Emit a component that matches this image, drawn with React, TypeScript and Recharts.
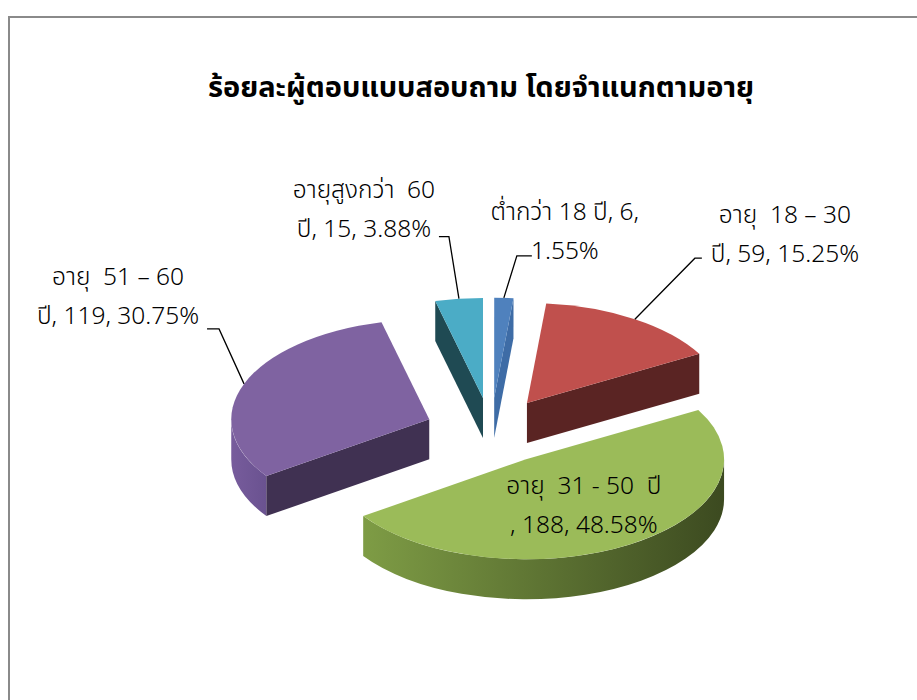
import React from "react";
import { PieChart, Pie, Cell } from "recharts";

// Respondents by age group
const categories = ["ต่ำกว่า 18 ปี", "อายุ  18 – 30 ปี", "อายุ  31 - 50  ปี", "อายุ  51 – 60 ปี", "อายุสูงกว่า  60 ปี"];
const respondents = [6, 59, 188, 119, 15];

const data = categories.map((name, i) => ({ name, value: respondents[i] }));

// Excel-like palette: top face, cut face, outer wall gradient
const TOP = ["#4F81BD", "#C0504D", "#9BBB59", "#7F63A1", "#4BACC6"];
const SIDE = ["#3E6CA6", "#5A2423", "#4F6228", "#403152", "#1F4A53"];
const WALL = [
	["#46729F", "#3A5F8E"],
	["#8A3A38", "#5A2423"],
	["#7E9C45", "#3C4A20"],
	["#775C9C", "#6A5290"],
	["#3A8AA0", "#2A6878"],
];

const FONT = '"Noto Sans Thai", Tahoma, "Noto Sans", "DejaVu Sans", sans-serif';

// fake 3D geometry
const TILT = 0.505;
const DEPTH = 40;
const EXPLODE = 66;
const LINE = 39;

// label placement relative to the point where the leader touches the slice
const LABELS = [
	{ elbow: [13, -42], end: [28, -42], text: [61, -66], wrap: "value" },
	{ elbow: [60, -61], end: [67, -61], text: [150, -84], wrap: "word" },
	{ elbow: null, end: null, text: [0, 0], wrap: "inside" },
	{ elbow: [-25, -55], end: [-37, -55], text: [-126, -87], wrap: "word" },
	{ elbow: [-10, -62], end: [-20, -62], text: [-95, -89], wrap: "word" },
];

const rad = (d: number) => (d * Math.PI) / 180;

const indexOf = (p: any) => {
	const n = p?.payload?.name ?? p?.name;
	return Math.max(0, categories.indexOf(n));
};

const geometry = (cx: number, cy: number, R: number, mid: number) => {
	const vx = cx + EXPLODE * Math.cos(rad(mid));
	const vy = cy - EXPLODE * TILT * Math.sin(rad(mid));
	const pt = (a: number, dz = 0) => [vx + R * Math.cos(rad(a)), vy - R * TILT * Math.sin(rad(a)) + dz];
	return { vx, vy, pt };
};

const Slice3D = (props: any) => {
	const { cx, cy, outerRadius: R, startAngle: s, endAngle: e } = props;
	const i = indexOf(props);
	const ry = R * TILT;
	const { vx, vy, pt } = geometry(cx, cy, R, (s + e) / 2);

	const faces: string[] = [];
	const face = (a: number) => {
		const [x, y] = pt(a);
		return `M${vx},${vy} L${x},${y} L${x},${y + DEPTH} L${vx},${vy + DEPTH} Z`;
	};
	if (Math.cos(rad(s)) < 0) faces.push(face(s));
	if (Math.cos(rad(e)) > 0) faces.push(face(e));

	// outer wall: only the front half of the ellipse shows
	let wall = "";
	const a1 = Math.min(s, 0);
	const a2 = Math.max(e, -180);
	if (a1 > a2) {
		const [x1, y1] = pt(a1);
		const [x2, y2] = pt(a2);
		const lg = a1 - a2 > 180 ? 1 : 0;
		wall = `M${x1},${y1} A${R},${ry} 0 ${lg} 1 ${x2},${y2} L${x2},${y2 + DEPTH} A${R},${ry} 0 ${lg} 0 ${x1},${y1 + DEPTH} Z`;
	}

	const [sx, sy] = pt(s);
	const [ex, ey] = pt(e);
	const large = s - e > 180 ? 1 : 0;
	const top = `M${vx},${vy} L${sx},${sy} A${R},${ry} 0 ${large} 1 ${ex},${ey} Z`;

	return (
		<g>
			<defs>
				<linearGradient id={`wall${i}`} x1="0" y1="0" x2="1" y2="0">
					<stop offset="0%" stopColor={WALL[i][0]} />
					<stop offset="100%" stopColor={WALL[i][1]} />
				</linearGradient>
			</defs>
			{wall && <path d={wall} fill={`url(#wall${i})`} />}
			{faces.map((d, k) => (
				<path key={k} d={d} fill={SIDE[i]} />
			))}
			<path d={top} fill={TOP[i]} />
		</g>
	);
};

const wrapLabel = (name: string, value: number, pct: string, mode: string) => {
	if (mode === "value") return [`${name}, ${value},`, pct];
	if (mode === "word") {
		const k = name.lastIndexOf(" ");
		return [name.slice(0, k), `${name.slice(k + 1)}, ${value}, ${pct}`];
	}
	return [name, `, ${value}, ${pct}`];
};

const renderLabel = (props: any) => {
	const { cx, cy, outerRadius: R, midAngle, percent, value } = props;
	const i = indexOf(props);
	const L = LABELS[i];
	const { vx, vy, pt } = geometry(cx, cy, R, midAngle);
	const pct = `${(percent * 100).toFixed(2)}%`;
	const lines = wrapLabel(categories[i], value, pct, L.wrap);

	let tx: number;
	let ty: number;
	let leader = null;
	if (L.elbow && L.end) {
		const [ax, ay] = pt(midAngle);
		tx = ax + L.text[0];
		ty = ay + L.text[1];
		leader = (
			<polyline
				points={`${ax},${ay} ${ax + L.elbow[0]},${ay + L.elbow[1]} ${ax + L.end[0]},${ay + L.end[1]}`}
				fill="none"
				stroke="#000"
				strokeWidth={1.3}
			/>
		);
	} else {
		tx = vx + 0.55 * R * Math.cos(rad(midAngle));
		ty = vy - 0.55 * R * TILT * Math.sin(rad(midAngle));
	}

	return (
		<g>
			{leader}
			{lines.map((t, k) => (
				<text
					key={k}
					x={tx}
					y={ty + (k - 0.5) * LINE}
					textAnchor="middle"
					dominantBaseline="central"
					fill="#000"
					fontSize={24.5}
					fontWeight={300}
					fontFamily={FONT}
					style={{ whiteSpace: "pre" }}
				>
					{t}
				</text>
			))}
		</g>
	);
};

export default function App() {
	return (
		<div style={{ position: "absolute", left: 0, top: 0, width: 917, height: 700, overflow: "hidden", background: "#fff" }}>
			<div
				style={{
					position: "absolute",
					left: 8,
					top: 16,
					width: 1000,
					height: 1000,
					border: "2px solid #8A8A8A",
				}}
			/>
			<div
				style={{
					position: "absolute",
					left: 0,
					width: 962,
					top: 68,
					textAlign: "center",
					fontFamily: FONT,
					fontWeight: 700,
					fontSize: 29,
					lineHeight: "40px",
					color: "#000",
				}}
			>
				ร้อยละผู้ตอบแบบสอบถาม โดยจำแนกตามอายุ
			</div>
			<div style={{ position: "absolute", left: 0, top: 0 }}>
				<PieChart width={917} height={700} margin={{ top: 0, right: 0, bottom: 0, left: 0 }}>
					<Pie
						data={data}
						dataKey="value"
						nameKey="name"
						cx={491}
						cy={431}
						outerRadius={198}
						startAngle={90}
						endAngle={-270}
						stroke="none"
						shape={Slice3D}
						activeShape={Slice3D}
						inactiveShape={Slice3D}
						label={renderLabel}
						labelLine={false}
						isAnimationActive={false}
					>
						{data.map((d, i) => (
							<Cell key={d.name} fill={TOP[i]} />
						))}
					</Pie>
				</PieChart>
			</div>
		</div>
	);
}
